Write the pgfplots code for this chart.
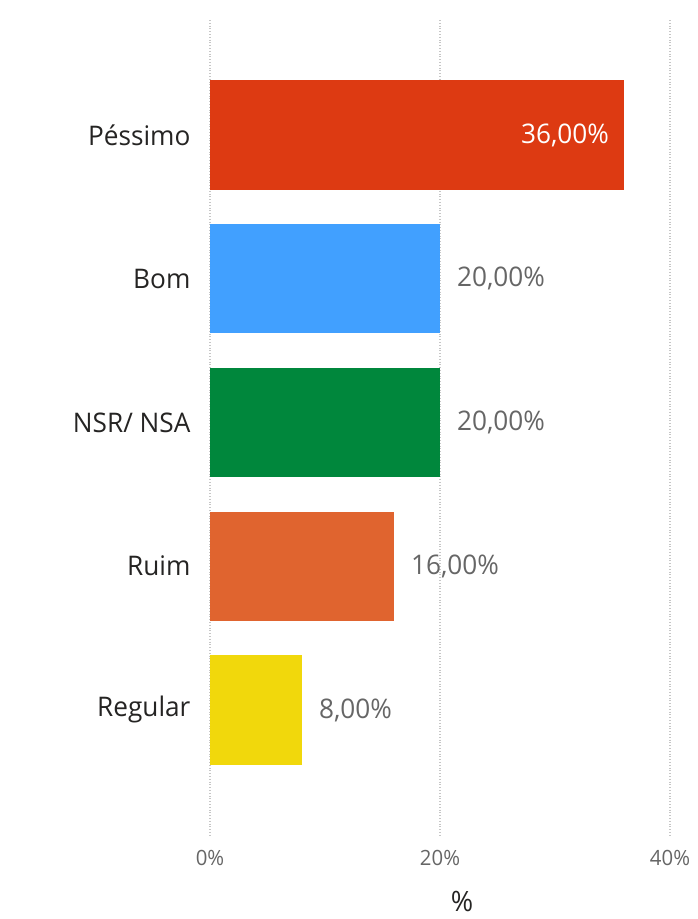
\documentclass[border=0pt]{standalone}
\usepackage{fontspec}
\setmainfont{Open Sans}[FakeStretch=0.97]
\usepackage{pgfplots}
\pgfplotsset{compat=1.18}

\definecolor{cPessimo}{HTML}{DD3A12}
\definecolor{cBom}{HTML}{41A0FF}
\definecolor{cNSR}{HTML}{00873C}
\definecolor{cRuim}{HTML}{E0642F}
\definecolor{cRegular}{HTML}{F1D80C}
\definecolor{lbl}{HTML}{666666}
\definecolor{txt}{HTML}{252423}

\begin{document}
\begin{tikzpicture}
\useasboundingbox (0,0) rectangle (348.5pt,459.5pt);
\begin{axis}[
    at={(105pt,42pt)}, anchor=south west,
    scale only axis,
    width=230pt, height=407.5pt,
    xbar, bar shift=0pt, bar width=0.76,
    xmin=0, xmax=40,
    ymin=-0.8, ymax=4.87,
    y dir=reverse,
    ytick={0,1,2,3,4},
    yticklabels={Péssimo, Bom, NSR/ NSA, Ruim, Regular},
    yticklabel style={font=\fontsize{13.5}{16}\selectfont, text=txt, xshift=-2pt},
    xtick={0,20,40},
    xticklabel={\pgfmathprintnumber[assume math mode=true]{\tick}\%},
    xticklabel style={font=\fontsize{10.5}{12}\selectfont, text=lbl, yshift=-4pt},
    xlabel={\%},
    xlabel style={font=\fontsize{14}{16}\selectfont, text=txt, xshift=11pt, yshift=-6pt},
    xmajorgrids, ymajorgrids=false,
    major grid style={densely dotted, gray!45, line width=0.6pt},
    axis line style={draw=none},
    tick style={draw=none},
    point meta=x,
    nodes near coords={\pgfmathprintnumber[fixed, fixed zerofill, precision=2, use comma, assume math mode=true]{\pgfplotspointmeta}\%},
    nodes near coords style={font=\fontsize{13.5}{16}\selectfont, text=lbl, anchor=west, xshift=5pt},
]
\addplot[draw=none, fill=cPessimo,
    nodes near coords style={text=white, anchor=east, xshift=-9pt}]
    coordinates {(36,0)};
\addplot[draw=none, fill=cBom] coordinates {(20,1)};
\addplot[draw=none, fill=cNSR] coordinates {(20,2)};
\addplot[draw=none, fill=cRuim] coordinates {(16,3)};
\addplot[draw=none, fill=cRegular] coordinates {(8,4)};
\end{axis}
\end{tikzpicture}
\end{document}
